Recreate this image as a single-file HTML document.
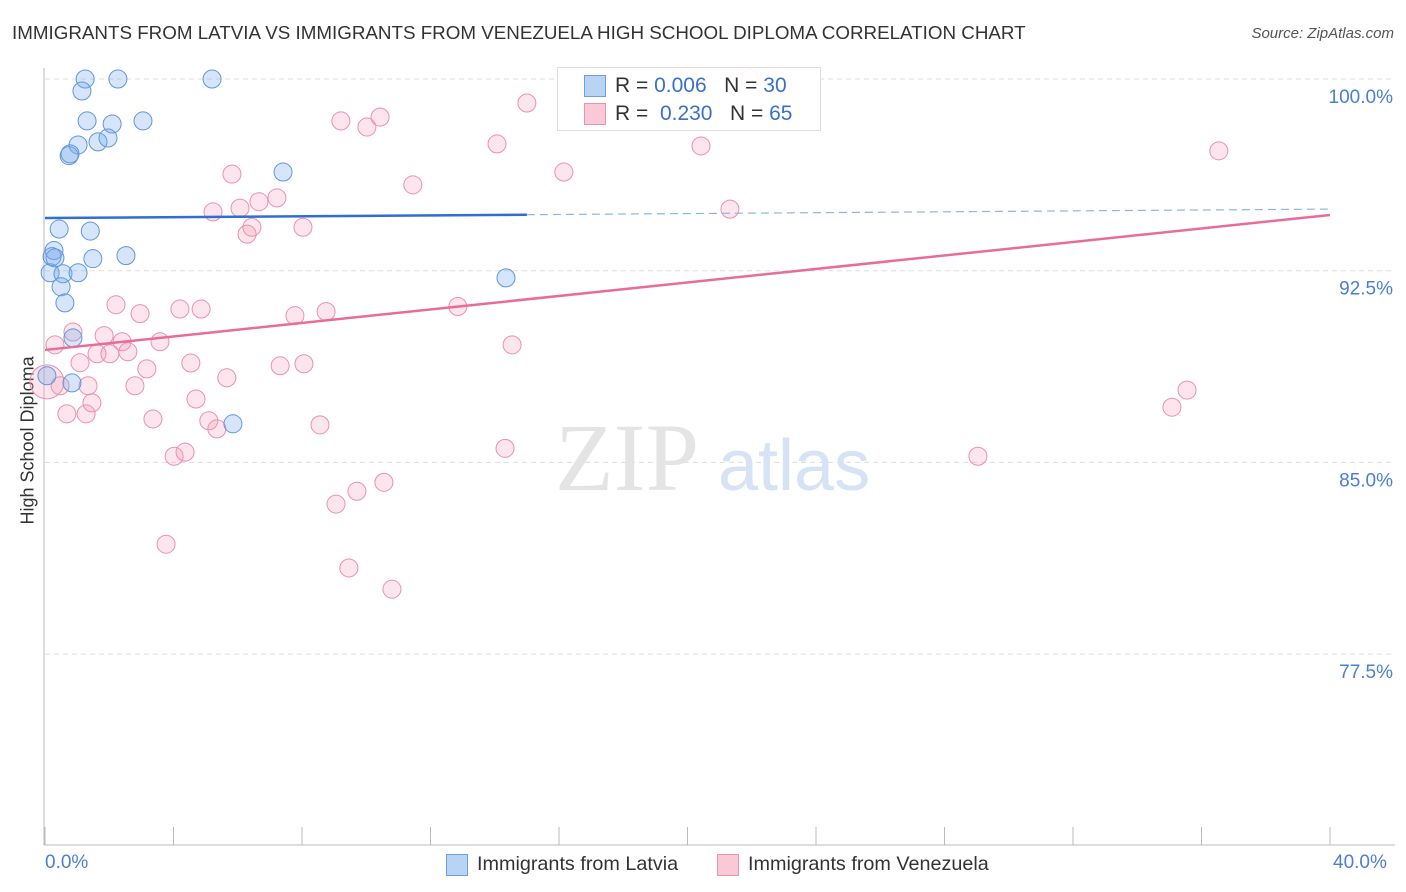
<!DOCTYPE html>
<html><head><meta charset="utf-8"><style>
body{margin:0;background:#fff;font-family:"Liberation Sans",sans-serif;}
#wrap{position:relative;width:1406px;height:892px;overflow:hidden;}
.t{position:absolute;white-space:nowrap;}
</style></head><body>
<div id="wrap">
<div class="t" style="left:12px;top:22px;font-size:18.8px;color:#333;">IMMIGRANTS FROM LATVIA VS IMMIGRANTS FROM VENEZUELA HIGH SCHOOL DIPLOMA CORRELATION CHART</div>
<div class="t" style="right:12px;top:25px;font-size:15px;color:#555;font-style:italic;">Source: ZipAtlas.com</div>
<div class="t" style="left:-42px;top:444px;font-size:18px;color:#333;transform:rotate(-90deg);width:140px;text-align:center;">High School Diploma</div>
<svg id="svg" width="1406" height="892" style="position:absolute;left:0;top:0"></svg>
<div class="t" style="left:45px;top:852px;font-size:19px;color:#4a7fd4;">0.0%</div>
<div class="t" style="left:1333px;top:852px;font-size:19px;color:#4a7fd4;">40.0%</div>
<div style="position:absolute;left:557px;top:67px;width:262px;height:62px;border:1px solid #ddd;background:rgba(255,255,255,0.9);"></div>
<div style="position:absolute;left:584px;top:75px;width:20px;height:20px;background:#b9d3f5;border:1px solid #6c9fe0;"></div>
<div style="position:absolute;left:584px;top:103px;width:20px;height:20px;background:#f9c9d7;border:1px solid #ea93b0;"></div>
<div class="t" style="left:615px;top:74px;font-size:21px;color:#333;">R = <span style="color:#3a70c8">0.006</span>&nbsp;&nbsp;&nbsp;N = <span style="color:#3a70c8">30</span></div>
<div class="t" style="left:615px;top:102px;font-size:21px;color:#333;">R = &nbsp;<span style="color:#3a70c8">0.230</span>&nbsp;&nbsp;&nbsp;N = <span style="color:#3a70c8">65</span></div>
<div style="position:absolute;left:446px;top:854px;width:20px;height:20px;background:#b9d3f5;border:1px solid #6c9fe0;"></div>
<div class="t" style="left:477px;top:853px;font-size:19.8px;color:#333;">Immigrants from Latvia</div>
<div style="position:absolute;left:717px;top:854px;width:20px;height:20px;background:#f9c9d7;border:1px solid #ea93b0;"></div>
<div class="t" style="left:748px;top:853px;font-size:19.8px;color:#333;">Immigrants from Venezuela</div>
</div>
<script>
const yTicks=[100,92.5,85,77.5];
const yTickLabels=["100.0%","92.5%","85.0%","77.5%"];
const latviaX=[1.25,2.27,5.2,1.15,1.31,2.09,3.05,1.03,1.65,1.96,0.75,0.78,7.41,0.44,1.41,0.28,0.22,2.52,1.49,0.16,0.56,1.03,0.5,0.62,0.87,0.84,0.06,5.85,14.35,0.31];
const latviaY=[100,100,100,99.53,98.36,98.24,98.36,97.42,97.54,97.69,97.0,97.07,96.36,94.13,94.05,93.29,93.05,93.09,92.97,92.42,92.38,92.42,91.87,91.24,89.87,88.11,88.39,86.51,92.22,93.0];
const venX=[0.06,0.31,0.47,0.68,1.28,1.46,0.87,1.09,1.62,1.84,2.02,2.4,2.58,2.21,2.96,2.8,3.17,3.36,3.58,3.77,4.02,4.36,4.2,4.54,4.7,4.86,5.1,5.35,5.66,5.23,5.82,6.07,6.29,6.44,6.66,7.22,7.32,7.78,8.03,8.06,8.56,8.75,9.06,9.21,9.46,9.71,10.02,10.43,10.55,10.8,11.45,12.85,14.07,14.32,14.54,15.0,16.15,20.42,21.32,21.94,29.04,35.08,35.55,36.54,1.34];
const venY=[88.15,89.6,88.0,86.9,86.9,87.33,90.1,88.9,89.25,89.96,89.25,89.72,89.33,91.17,90.82,88.0,88.66,86.7,89.72,81.8,85.24,85.4,91.0,88.89,87.48,91.0,86.63,86.31,88.31,94.8,96.28,94.95,93.93,94.2,95.2,95.35,88.78,90.74,94.2,88.86,86.47,90.9,83.37,98.36,80.87,83.87,98.12,98.51,84.22,80.04,95.86,91.1,97.46,85.55,89.6,99.06,96.36,97.38,94.91,100,85.24,87.16,87.83,97.19,88.0];
const trendLatvia=[94.56,94.91];
const trendVen=[89.40,94.68];
const X0=45,X1=1330,Y100=79,PXPER=191.7/7.5;
const sx=v=>X0+(v/40)*(X1-X0);
const sy=v=>Y100+(100-v)*PXPER;
const svg=document.getElementById('svg');const NS='http://www.w3.org/2000/svg';
function mk(tag,at){const e=document.createElementNS(NS,tag);for(const k in at)e.setAttribute(k,at[k]);svg.appendChild(e);return e;}
yTicks.forEach((t,i)=>{
 const g=mk('line',{x1:45,x2:1395,y1:sy(t),y2:sy(t),stroke:'#ddd','stroke-dasharray':'5,4'});
 
 
 const tx=mk('text',{x:1393,y:sy(t)+24,'text-anchor':'end','font-size':19,fill:'#4a7fd4','font-family':'Liberation Sans, sans-serif'});
 tx.textContent=yTickLabels[i];
 
 
});
const ax=mk('line',{x1:44,x2:44,y1:68,y2:845,stroke:'#bbb'});


const bx=mk('line',{x1:44,x2:1395,y1:845,y2:845,stroke:'#bbb'});


for(let i=0;i<=10;i++){const l=mk('line',{x1:sx(i*4),x2:sx(i*4),y1:827,y2:845,stroke:'#bbb'});
 
 }
const wm=mk('text',{x:555,y:490,'font-size':96,fill:'#e4e4e4','font-family':'Liberation Serif, serif'});wm.textContent='ZIP';


const wm2=mk('text',{x:718,y:490,'font-size':72,fill:'#d5e3f5','font-family':'Liberation Sans, sans-serif'});wm2.textContent='atlas';


venX.forEach((x,i)=>{const c=mk('circle',{cx:sx(x),cy:sy(venY[i]),r:i==0?17:9,fill:'rgba(244,160,188,0.28)',stroke:'#eb90ae','stroke-width':1});
 
 });
latviaX.forEach((x,i)=>{const c=mk('circle',{cx:sx(x),cy:sy(latviaY[i]),r:9,fill:'rgba(120,170,235,0.3)',stroke:'#5f97dc','stroke-width':1});
 
 });
const lv=v=>trendLatvia[0]+(trendLatvia[1]-trendLatvia[0])*v/40;
const t1=mk('line',{x1:sx(0),y1:sy(lv(0)),x2:sx(15),y2:sy(lv(15)),stroke:'#2f6fd0','stroke-width':2.5});


const t2=mk('line',{x1:sx(15),y1:sy(lv(15)),x2:sx(40),y2:sy(lv(40)),stroke:'#8fb3e3','stroke-width':1.2,'stroke-dasharray':'8,5'});


const t3=mk('line',{x1:sx(0),y1:sy(trendVen[0]),x2:sx(40),y2:sy(trendVen[1]),stroke:'#e76d98','stroke-width':2.5});


</script>
</body></html>
